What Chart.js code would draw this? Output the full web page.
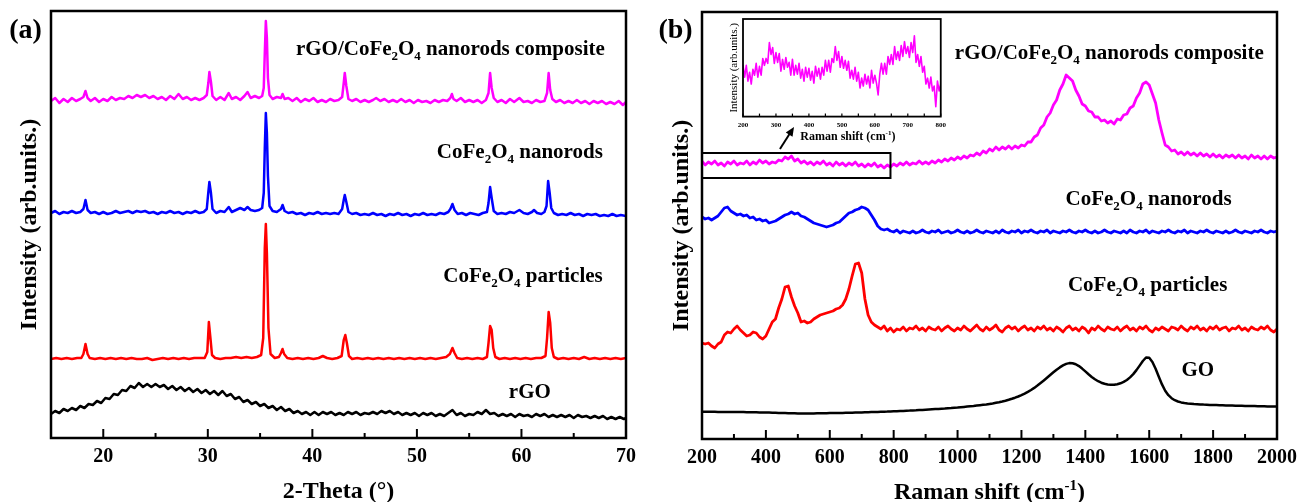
<!DOCTYPE html>
<html>
<head>
<meta charset="utf-8">
<script src="https://cdn.jsdelivr.net/npm/chart.js@4.4.1/dist/chart.umd.min.js"></script>
<style>
  html, body { margin: 0; padding: 0; background: #fff; }
  #wrap { position: relative; width: 1309px; height: 502px; overflow: hidden; }
  canvas { position: absolute; }
  #xrd { left: 0; top: 0; }
  #raman { left: 650px; top: 0; }
  #inset { left: 700px; top: 10px; }
</style>
</head>
<body>
<div id="wrap">
  <canvas id="xrd" width="650" height="502"></canvas>
  <canvas id="raman" width="659" height="502"></canvas>
  <canvas id="inset" width="250" height="135"></canvas>
</div>
<script>
// ---- panel (a): XRD, [2-theta, intensity (arb., offset stacked)] ----
const xrdComposite = [
  [15,337],[15.4,340],[15.8,335],[16.2,339],[16.6,336],[17,340],[17.4,337],[17.8,339],[18.1,341],[18.3,347],
  [18.5,340],[18.8,337],[19.2,340],[19.6,336],[20,339],[20.4,337],[20.8,341],[21.2,338],[21.6,340],[22,339],
  [22.4,342],[22.8,340],[23.2,343],[23.6,341],[24,343],[24.4,340],[24.8,342],[25.2,339],[25.6,341],[26,338],
  [26.4,342],[26.8,339],[27.2,344],[27.6,339],[28,341],[28.4,338],[28.8,340],[29.2,338],[29.6,340],[29.9,343],
  [30.05,355],[30.15,366],[30.3,356],[30.45,342],[30.8,338],[31.2,341],[31.6,338],[32,345],[32.3,339],[32.7,341],
  [33.1,338],[33.5,342],[33.8,346],[34.1,340],[34.5,342],[34.9,340],[35.2,342],[35.35,350],[35.45,385],[35.55,417],
  [35.65,400],[35.75,360],[35.9,343],[36.2,339],[36.6,341],[37,340],[37.15,344],[37.35,339],[37.7,340],[38.1,337],
  [38.5,340],[38.9,336],[39.3,339],[39.7,337],[40.1,340],[40.5,336],[40.9,338],[41.3,336],[41.7,339],[42.1,337],
  [42.5,338],[42.85,341],[43,355],[43.1,365],[43.25,352],[43.45,339],[43.8,337],[44.2,339],[44.6,336],[45,338],
  [45.4,336],[45.8,338],[46.1,340],[46.5,337],[46.9,339],[47.3,336],[47.7,338],[48.1,336],[48.5,339],[48.9,336],
  [49.3,338],[49.7,335],[50.1,338],[50.5,336],[50.9,337],[51.3,335],[51.7,338],[52.1,336],[52.5,338],[52.9,337],
  [53.2,340],[53.35,344],[53.5,339],[53.8,337],[54.2,340],[54.6,336],[55,338],[55.4,336],[55.8,338],[56.2,335],
  [56.6,338],[56.85,345],[57,365],[57.15,350],[57.35,340],[57.7,336],[58.1,338],[58.5,335],[58.9,339],[59.3,336],
  [59.8,340],[60.2,336],[60.6,337],[61,335],[61.4,338],[61.8,336],[62.2,337],[62.45,345],[62.6,365],[62.75,348],
  [62.95,339],[63.3,336],[63.7,338],[64.1,335],[64.5,337],[64.9,335],[65.3,338],[65.7,335],[66.1,337],[66.5,334],
  [66.9,337],[67.3,335],[67.7,337],[68.1,334],[68.5,336],[68.9,334],[69.3,337],[69.7,333],[70,336]
];
const xrdNanorods = [
  [15,225],[15.4,227],[15.8,224],[16.2,226],[16.6,225],[17,227],[17.4,225],[17.8,226],[18.1,229],[18.3,238],
  [18.5,228],[18.8,225],[19.2,226],[19.6,224],[20,226],[20.4,224],[20.8,225],[21.2,227],[21.6,225],[22,226],
  [22.4,227],[22.8,225],[23.2,227],[23.6,226],[24,227],[24.4,225],[24.8,226],[25.2,224],[25.6,226],[26,225],
  [26.4,227],[26.8,225],[27.2,226],[27.6,224],[28,226],[28.4,225],[28.8,227],[29.2,225],[29.6,226],[29.9,229],
  [30.05,246],[30.15,256],[30.3,245],[30.45,229],[30.8,225],[31.2,227],[31.6,226],[32,231],[32.3,226],[32.7,228],
  [33.1,230],[33.5,228],[33.8,231],[34.1,228],[34.5,227],[34.9,228],[35.2,230],[35.35,245],[35.45,290],[35.55,325],
  [35.65,305],[35.75,262],[35.9,232],[36.2,227],[36.6,226],[37,229],[37.15,233],[37.35,227],[37.7,225],[38.1,226],
  [38.5,224],[38.9,225],[39.3,223],[39.7,225],[40.1,224],[40.5,226],[40.9,224],[41.3,225],[41.7,224],[42.1,225],
  [42.5,224],[42.85,229],[43,238],[43.1,243],[43.25,236],[43.45,226],[43.8,224],[44.2,225],[44.6,223],[45,224],
  [45.4,223],[45.8,225],[46.2,223],[46.6,224],[47,222],[47.4,224],[47.8,223],[48.2,225],[48.6,223],[49,224],
  [49.4,222],[49.8,224],[50.2,223],[50.6,225],[51,223],[51.4,224],[51.8,223],[52.2,225],[52.6,224],[53,226],
  [53.2,229],[53.4,234],[53.6,228],[53.9,224],[54.3,225],[54.7,223],[55.1,225],[55.5,224],[55.9,223],[56.3,225],
  [56.7,226],[56.85,235],[57,251],[57.15,240],[57.35,227],[57.7,224],[58.1,225],[58.5,224],[58.9,226],[59.3,225],
  [59.8,228],[60.2,225],[60.6,224],[61,226],[61.2,228],[61.5,225],[61.9,224],[62.2,226],[62.4,232],[62.55,257],
  [62.7,245],[62.85,230],[63.1,225],[63.5,223],[63.9,224],[64.3,223],[64.7,225],[65.1,223],[65.5,224],[65.9,222],
  [66.3,224],[66.7,223],[67.1,224],[67.5,222],[67.9,223],[68.3,222],[68.7,224],[69.1,222],[69.5,223],[70,222]
];
const xrdParticles = [
  [15,79],[15.5,80],[16,79],[16.5,80],[17,79],[17.5,80],[17.9,80],[18.1,84],[18.3,94],[18.5,84],
  [18.7,80],[19.2,79],[19.7,80],[20.2,79],[20.7,80],[21.2,79],[21.7,80],[22.2,79],[22.7,80],[23.2,79],
  [23.7,79],[24.2,80],[24.7,78],[25.2,79],[25.7,80],[26.2,79],[26.7,80],[27.2,79],[27.7,80],[28.2,79],
  [28.7,80],[29.2,80],[29.7,80],[29.95,86],[30.1,116],[30.25,100],[30.4,83],[30.7,80],[31.2,79],[31.7,80],
  [32.2,80],[32.7,81],[33.2,80],[33.7,81],[34.2,80],[34.7,81],[35.1,83],[35.3,100],[35.45,190],[35.55,214],
  [35.65,185],[35.8,110],[36,84],[36.4,80],[36.8,81],[37,85],[37.15,89],[37.3,84],[37.6,80],[38.1,79],
  [38.6,80],[39.1,79],[39.6,80],[40.1,79],[40.6,80],[41,82],[41.4,80],[41.9,79],[42.4,80],[42.8,82],
  [43,98],[43.15,103],[43.3,95],[43.5,82],[43.8,79],[44.3,80],[44.8,79],[45.3,80],[45.8,79],[46.3,80],
  [46.8,79],[47.3,80],[47.8,79],[48.3,80],[48.8,79],[49.3,80],[49.8,79],[50.3,80],[50.8,79],[51.3,80],
  [51.8,79],[52.3,80],[52.8,81],[53.15,84],[53.4,90],[53.6,85],[53.85,80],[54.3,79],[54.8,80],[55.3,79],
  [55.8,80],[56.3,79],[56.7,81],[56.85,95],[57,112],[57.15,108],[57.3,90],[57.5,81],[57.9,79],[58.4,80],
  [58.9,79],[59.4,80],[59.9,79],[60.4,80],[60.9,79],[61.4,80],[61.9,80],[62.3,82],[62.45,100],[62.6,126],
  [62.75,115],[62.9,90],[63.1,81],[63.5,79],[64,80],[64.5,79],[65,80],[65.5,79],[66,81],[66.5,79],
  [67,80],[67.5,79],[68,80],[68.5,79],[69,80],[69.5,79],[70,80]
];
const xrdRGO = [
  [15,24],[15.4,27],[15.8,25],[16.2,29],[16.6,27],[17,30],[17.4,28],[17.8,32],[18.2,30],[18.6,34],
  [19,33],[19.4,37],[19.8,35],[20.2,40],[20.6,39],[21,44],[21.4,43],[21.8,48],[22.2,47],[22.6,52],
  [23,50],[23.4,55],[23.8,51],[24.2,54],[24.6,51],[25,54],[25.4,51],[25.8,53],[26.2,49],[26.6,52],
  [27,48],[27.4,51],[27.8,47],[28.2,50],[28.6,46],[29,49],[29.4,45],[29.8,48],[30.2,44],[30.6,47],
  [31,43],[31.4,47],[31.8,42],[32.2,44],[32.6,39],[33,41],[33.4,36],[33.8,38],[34.2,34],[34.6,36],
  [35,32],[35.4,34],[35.8,30],[36.2,32],[36.6,28],[37,31],[37.4,27],[37.8,29],[38.2,25],[38.6,27],
  [39,24],[39.4,26],[39.8,23],[40.2,26],[40.6,23],[41,26],[41.4,24],[41.8,26],[42.2,23],[42.6,25],
  [43,23],[43.4,26],[43.8,24],[44.2,26],[44.6,23],[45,25],[45.4,24],[45.8,26],[46.2,24],[46.6,27],
  [47,25],[47.4,27],[47.8,24],[48.2,26],[48.6,23],[49,25],[49.4,23],[49.8,25],[50.2,22],[50.6,25],
  [51,23],[51.4,25],[51.8,22],[52.2,24],[52.6,22],[53,25],[53.4,28],[53.8,23],[54.2,25],[54.6,22],
  [55,24],[55.4,23],[55.8,26],[56.2,24],[56.6,28],[57,24],[57.4,25],[57.8,22],[58.2,24],[58.6,22],
  [59,24],[59.4,21],[59.8,24],[60.2,22],[60.6,23],[61,21],[61.4,24],[61.8,22],[62.2,24],[62.6,21],
  [63,23],[63.4,21],[63.8,23],[64.2,21],[64.6,23],[65,20],[65.4,23],[65.8,21],[66.2,22],[66.6,20],
  [67,22],[67.4,20],[67.8,22],[68.2,19],[68.6,21],[69,19],[69.4,21],[69.8,19],[70,20]
];
const xrdTickLabels = [20, 30, 40, 50, 60, 70];
const xrdMinorTicks = [25, 35, 45, 55, 65];

// ---- panel (b): Raman, shared shift grid (cm-1) ----
const ramanShift = [
  200,210,220,230,240,250,260,270,280,290, 300,310,320,330,340,350,360,370,380,390,
  400,410,420,430,440,450,460,470,480,490, 500,510,520,530,540,550,560,570,580,590,
  600,610,620,630,640,650,660,670,680,690, 700,710,720,730,740,750,760,770,780,790,
  800,810,820,830,840,850,860,870,880,890, 900,910,920,930,940,950,960,970,980,990,
  1000,1010,1020,1030,1040,1050,1060,1070,1080,1090, 1100,1110,1120,1130,1140,1150,1160,1170,1180,1190,
  1200,1210,1220,1230,1240,1250,1260,1270,1280,1290, 1300,1310,1320,1330,1340,1350,1360,1370,1380,1390,
  1400,1410,1420,1430,1440,1450,1460,1470,1480,1490, 1500,1510,1520,1530,1540,1550,1560,1570,1580,1590,
  1600,1610,1620,1630,1640,1650,1660,1670,1680,1690, 1700,1710,1720,1730,1740,1750,1760,1770,1780,1790,
  1800,1810,1820,1830,1840,1850,1860,1870,1880,1890, 1900,1910,1920,1930,1940,1950,1960,1970,1980,1990,
  2000
];
const ramanComposite = [
  278,274,277,275,278,274,276,273,277,275, 278,274,276,275,278,274,277,275,279,276,
  278,275,277,276,279,278,282,280,283,278, 280,276,278,275,277,274,277,275,278,274,
  276,273,277,274,276,273,276,274,277,273, 275,272,275,273,276,272,274,271,274,272,
  275,273,276,274,277,274,276,275,278,275, 277,275,278,276,279,277,280,278,281,279,
  282,280,283,281,284,283,286,284,288,286, 290,288,292,289,292,290,293,290,293,291,
  294,293,297,297,302,304,311,314,322,326, 334,339,349,355,364,361,358,349,343,335,
  333,328,327,322,322,318,319,316,318,315, 320,319,324,325,331,333,341,346,355,357,
  354,345,336,319,306,294,292,288,289,285, 287,284,287,284,286,283,286,283,285,282,
  285,282,284,281,284,282,284,281,284,281, 283,280,284,281,283,280,283,280,283,281,
  282
];
const ramanNanorods = [
  222,220,221,219,221,223,227,231,232,228, 226,224,225,223,224,221,222,219,220,218,
  219,216,217,218,220,222,224,225,227,225, 226,223,222,220,218,216,215,214,213,212,
  213,214,216,217,220,223,226,227,229,230, 232,231,229,224,219,213,210,209,210,208,
  207,209,206,208,207,206,208,206,207,209, 207,206,208,207,209,206,207,208,206,207,
  209,207,206,208,206,207,209,207,206,208, 207,206,208,206,209,207,206,208,207,209,
  206,208,207,209,207,206,208,207,209,206, 208,207,206,208,207,209,207,206,208,207,
  209,207,206,208,206,207,209,207,206,208, 207,206,208,206,209,207,206,208,207,209,
  206,208,207,206,208,207,209,207,206,208, 207,209,206,208,207,206,208,207,209,207,
  206,208,207,206,208,206,207,209,207,206, 208,207,206,208,207,209,207,206,208,207,
  208
];
const ramanParticles = [
  96,95,96,93,91,95,97,104,107,106, 110,113,109,106,103,104,107,106,102,100,
  103,110,117,120,131,140,152,153,142,133, 126,117,118,116,117,120,122,124,125,126,
  127,128,130,131,134,140,150,163,175,176, 166,140,124,117,114,112,110,113,108,111,
  107,110,109,112,108,111,110,113,109,111, 108,112,110,109,112,108,111,113,110,108,
  111,109,113,110,108,111,114,110,108,112, 109,111,114,109,107,111,113,110,112,108,
  111,113,109,111,108,112,110,113,109,111, 108,112,110,107,111,113,109,111,108,112,
  110,106,111,109,113,110,108,112,110,109, 112,108,111,113,109,111,108,112,110,113,
  109,107,111,109,112,110,108,112,111,109, 113,110,108,112,110,113,109,111,108,112,
  110,113,109,111,112,108,111,110,113,109, 111,108,112,110,109,112,110,113,109,107,
  110
];
const ramanGO = [
  27.3,27.3,27.2,27.2,27.2,27.1,27.1,27.1,27,27, 27,26.9,26.9,26.9,26.8,26.8,26.7,26.7,26.6,26.6,
  26.5,26.4,26.3,26.2,26.1,26,25.9,25.8,25.7,25.7, 25.6,25.6,25.6,25.6,25.6,25.6,25.7,25.7,25.8,25.8,
  25.9,26,26,26.1,26.1,26.2,26.3,26.3,26.4,26.5, 26.6,26.7,26.8,26.9,27,27.1,27.2,27.3,27.4,27.6,
  27.7,27.8,28,28.1,28.3,28.4,28.6,28.7,28.9,29.1, 29.3,29.5,29.7,29.9,30.1,30.3,30.5,30.8,31,31.3,
  31.5,31.8,32.1,32.4,32.7,33,33.4,33.8,34.2,34.6, 35.1,35.6,36.2,36.8,37.5,38.3,39.2,40.2,41.3,42.5,
  43.9,45.4,47.1,49,51.1,53.4,55.9,58.5,61.2,64, 66.7,69.3,71.6,73.6,75.1,75.9,75.8,74.8,72.9,70.4,
  67.6,64.7,62,59.7,57.8,56.3,55.2,54.5,54.2,54.3, 54.8,55.7,57.1,59,61.6,64.9,68.9,73.4,78,81.5,
  81.2,77,70.2,62.3,54.6,48.3,43.8,40.8,38.8,37.5, 36.6,36,35.6,35.3,35,34.8,34.6,34.4,34.3,34.1,
  34,33.9,33.8,33.7,33.6,33.5,33.4,33.3,33.2,33.2, 33.1,33,33,32.9,32.8,32.8,32.7,32.6,32.6,32.5,
  32.5
];
const ramanTickLabels = [200, 400, 600, 800, 1000, 1200, 1400, 1600, 1800, 2000];
const ramanMinorTicks = [300, 500, 700, 900, 1100, 1300, 1500, 1700, 1900];

// ---- inset: composite, 200-800 cm-1 ----
const insetShift = [
  200,205,210,215,220,225,230,235,240,245,250,255,260,265,270,275,280,285,290,295,
  300,305,310,315,320,325,330,335,340,345,350,355,360,365,370,375,380,385,390,395,
  400,405,410,415,420,425,430,435,440,445,450,455,460,465,470,475,480,485,490,495,
  500,505,510,515,520,525,530,535,540,545,550,555,560,565,570,575,580,585,590,595,
  600,605,610,615,620,625,630,635,640,645,650,655,660,665,670,675,680,685,690,695,
  700,705,710,715,720,725,730,735,740,745,750,755,760,765,770,775,780,785,790,795,
  800
];
const insetIntensity = [
  52,40,52,36,45,33,48,42,54,40,51,42,59,52,59,54,75,63,70,54,
  65,55,64,46,58,48,60,50,55,42,58,42,52,43,54,39,48,36,50,40,
  49,37,46,34,51,41,49,38,50,42,57,46,57,45,59,55,71,57,66,50,
  61,49,57,47,56,39,47,38,50,36,45,29,39,31,43,33,41,29,47,34,
  42,34,22,43,54,43,54,43,61,53,63,53,71,58,66,57,72,61,76,64,
  71,60,75,65,82,55,63,51,61,45,51,33,39,29,40,26,31,10,36,26,
  33
];
const insetTickLabels = [200, 300, 400, 500, 600, 700, 800];
const insetMinorTicks = [250, 350, 450, 550, 650, 750];

// annotation anchors, in data units
const insetBoxShift = [200, 790];
const insetBoxLevel = [261, 286];
const arrowFrom = [444, 290];
const arrowTo = [488, 312];

const CO = (rest) => [['CoFe', ''], ['2', 'sub'], ['O', ''], ['4', 'sub'], [rest, '']];
const xrdLabels = [
  { x: 53.2, y: 390, parts: [['rGO/', ''], ...CO(' nanorods composite')] },
  { x: 59.85, y: 287, parts: CO(' nanorods') },
  { x: 60.15, y: 163, parts: CO(' particles') },
  { x: 60.8, y: 47, parts: [['rGO', '']] }
];
const ramanLabels = [
  { x: 1475, y: 387, parts: [['rGO/', ''], ...CO(' nanorods composite')] },
  { x: 1598, y: 241, parts: CO(' nanorods') },
  { x: 1595, y: 155, parts: CO(' particles') },
  { x: 1752, y: 70, parts: [['GO', '']] }
];

const SERIF = '"Liberation Serif", "Times New Roman", serif';

function drawRich(ctx, parts, cx, cy, size, weight) {
  // parts: [text, '' | 'sub' | 'sup'], centred on cx, cap-centre on cy
  const small = Math.round(size * 0.62);
  const widths = parts.map(([t, k]) => {
    ctx.font = `${weight} ${k ? small : size}px ${SERIF}`;
    return ctx.measureText(t).width;
  });
  const total = widths.reduce((a, b) => a + b, 0);
  let x = cx - total / 2;
  const base = cy + size * 0.33;
  ctx.textAlign = 'left';
  ctx.textBaseline = 'alphabetic';
  parts.forEach(([t, k], i) => {
    ctx.font = `${weight} ${k ? small : size}px ${SERIF}`;
    const dy = k === 'sub' ? size * 0.22 : k === 'sup' ? -size * 0.36 : 0;
    ctx.fillText(t, x, base + dy);
    x += widths[i];
  });
}

function makeDecor(cfg) {
  return {
    id: 'decor',
    afterDatasetsDraw(chart) {
      const { ctx, chartArea: a, scales: { x, y } } = chart;
      ctx.save();
      ctx.strokeStyle = '#000';
      ctx.fillStyle = '#000';
      // inward ticks on bottom axis
      ctx.lineWidth = cfg.tickWidth;
      [[cfg.major, cfg.majorLen], [cfg.minor, cfg.minorLen]].forEach(([list, len]) => {
        list.forEach(v => {
          const px = x.getPixelForValue(v);
          ctx.beginPath();
          ctx.moveTo(px, a.bottom);
          ctx.lineTo(px, a.bottom - len);
          ctx.stroke();
        });
      });
      ctx.lineWidth = cfg.frameWidth;
      ctx.strokeRect(a.left, a.top, a.right - a.left, a.bottom - a.top);
      if (cfg.extra) cfg.extra(ctx, x, y);
      (cfg.labels || []).forEach(lb => {
        drawRich(ctx, lb.parts, x.getPixelForValue(lb.x), y.getPixelForValue(lb.y), cfg.labelSize, 'bold');
      });
      drawRich(ctx, cfg.xTitle, (a.left + a.right) / 2 + (cfg.xTitleShift || 0), a.bottom + cfg.xTitleGap, cfg.titleSize, 'bold');
      ctx.save();
      ctx.translate(a.left - cfg.yTitleGap, (a.top + a.bottom) / 2);
      ctx.rotate(-Math.PI / 2);
      drawRich(ctx, cfg.yTitle, 0, 0, cfg.yTitleSize, cfg.yTitleWeight);
      ctx.restore();
      if (cfg.tag) drawRich(ctx, [[cfg.tag, '']], cfg.tagX, cfg.tagY, 28, 'bold');
      ctx.restore();
    }
  };
}

function lineSet(points, color, width) {
  return { data: points, borderColor: color, borderWidth: width, pointRadius: 0,
           fill: false, tension: 0, borderJoinStyle: 'round' };
}
const pairs = list => list.map(([x, y]) => ({ x, y }));
const zipped = (xs, ys) => xs.map((x, i) => ({ x, y: ys[i] }));

function baseOptions(xMin, xMax, yMax, tickValues, tickSize, tickPad, pad) {
  return {
    responsive: false, animation: false, devicePixelRatio: 1,
    layout: { padding: pad },
    plugins: { legend: { display: false }, tooltip: { enabled: false } },
    scales: {
      x: {
        type: 'linear', min: xMin, max: xMax,
        afterBuildTicks: s => { s.ticks = tickValues.map(v => ({ value: v })); },
        grid: { display: false, drawTicks: false },
        border: { display: false },
        ticks: { color: '#000', padding: tickPad, maxRotation: 0, autoSkip: false,
                 callback: v => String(v),
                 font: { family: SERIF, size: tickSize, weight: 'bold' } }
      },
      y: { display: false, min: 0, max: yMax }
    }
  };
}

new Chart(document.getElementById('xrd'), {
  type: 'line',
  data: { datasets: [
    lineSet(pairs(xrdRGO), '#000000', 2.5),
    lineSet(pairs(xrdParticles), '#ff0000', 2.5),
    lineSet(pairs(xrdNanorods), '#0000ff', 2.5),
    lineSet(pairs(xrdComposite), '#ff00ff', 2.5)
  ] },
  options: baseOptions(15, 70, 427, xrdTickLabels, 20, 7, { left: 51, top: 11, right: 24, bottom: 26 }),
  plugins: [makeDecor({
    major: xrdTickLabels, minor: xrdMinorTicks, majorLen: 9, minorLen: 5, tickWidth: 2, frameWidth: 2.5,
    labels: xrdLabels, labelSize: 21,
    xTitle: [['2-Theta (°)', '']], titleSize: 24, xTitleGap: 52,
    yTitle: [['Intensity (arb.units.)', '']], yTitleSize: 24, yTitleWeight: 'bold', yTitleGap: 23,
    tag: '(a)', tagX: 25.5, tagY: 29
  })]
});

new Chart(document.getElementById('raman'), {
  type: 'line',
  data: { datasets: [
    lineSet(zipped(ramanShift, ramanGO), '#000000', 2.5),
    lineSet(zipped(ramanShift, ramanParticles), '#ff0000', 2.8),
    lineSet(zipped(ramanShift, ramanNanorods), '#0000ff', 2.8),
    lineSet(zipped(ramanShift, ramanComposite), '#ff00ff', 2.8)
  ] },
  options: baseOptions(200, 2000, 427, ramanTickLabels, 20, 7, { left: 52, top: 12, right: 32, bottom: 25 }),
  plugins: [makeDecor({
    major: ramanTickLabels, minor: ramanMinorTicks, majorLen: 9, minorLen: 5, tickWidth: 2, frameWidth: 2.5,
    labels: ramanLabels, labelSize: 21,
    xTitle: [['Raman shift (cm', ''], ['-1', 'sup'], [')', '']], titleSize: 24, xTitleGap: 52,
    yTitle: [['Intensity (arb.units.)', '']], yTitleSize: 24, yTitleWeight: 'bold', yTitleGap: 22,
    tag: '(b)', tagX: 25.5, tagY: 29,
    extra(ctx, x, y) {
      // box marking the zoomed region and the arrow to the inset
      const x0 = x.getPixelForValue(insetBoxShift[0]), x1 = x.getPixelForValue(insetBoxShift[1]);
      const y0 = y.getPixelForValue(insetBoxLevel[1]), y1 = y.getPixelForValue(insetBoxLevel[0]);
      ctx.lineWidth = 2;
      ctx.strokeRect(x0, y0, x1 - x0, y1 - y0);
      const ax = x.getPixelForValue(arrowFrom[0]), ay = y.getPixelForValue(arrowFrom[1]);
      const bx = x.getPixelForValue(arrowTo[0]), by = y.getPixelForValue(arrowTo[1]);
      const ang = Math.atan2(by - ay, bx - ax);
      ctx.lineWidth = 2;
      ctx.beginPath();
      ctx.moveTo(ax, ay);
      ctx.lineTo(bx - 6 * Math.cos(ang), by - 6 * Math.sin(ang));
      ctx.stroke();
      ctx.beginPath();
      ctx.moveTo(bx, by);
      ctx.lineTo(bx - 9 * Math.cos(ang) + 4 * Math.sin(ang), by - 9 * Math.sin(ang) - 4 * Math.cos(ang));
      ctx.lineTo(bx - 9 * Math.cos(ang) - 4 * Math.sin(ang), by - 9 * Math.sin(ang) + 4 * Math.cos(ang));
      ctx.closePath();
      ctx.fill();
    }
  })]
});

new Chart(document.getElementById('inset'), {
  type: 'line',
  data: { datasets: [lineSet(zipped(insetShift, insetIntensity), '#ff00ff', 1.6)] },
  options: baseOptions(200, 800, 99, insetTickLabels, 7, 4, { left: 43, top: 9, right: 8, bottom: 12 }),
  plugins: [makeDecor({
    major: insetTickLabels, minor: insetMinorTicks, majorLen: 3, minorLen: 3, tickWidth: 1.2, frameWidth: 1.8,
    labels: [], labelSize: 10,
    xTitle: [['Raman shift (cm', ''], ['-1', 'sup'], [')', '']], titleSize: 12, xTitleGap: 19, xTitleShift: 6,
    yTitle: [['Intensity (arb.units.)', '']], yTitleSize: 11, yTitleWeight: 'normal', yTitleGap: 10
  })]
});
</script>
</body>
</html>
